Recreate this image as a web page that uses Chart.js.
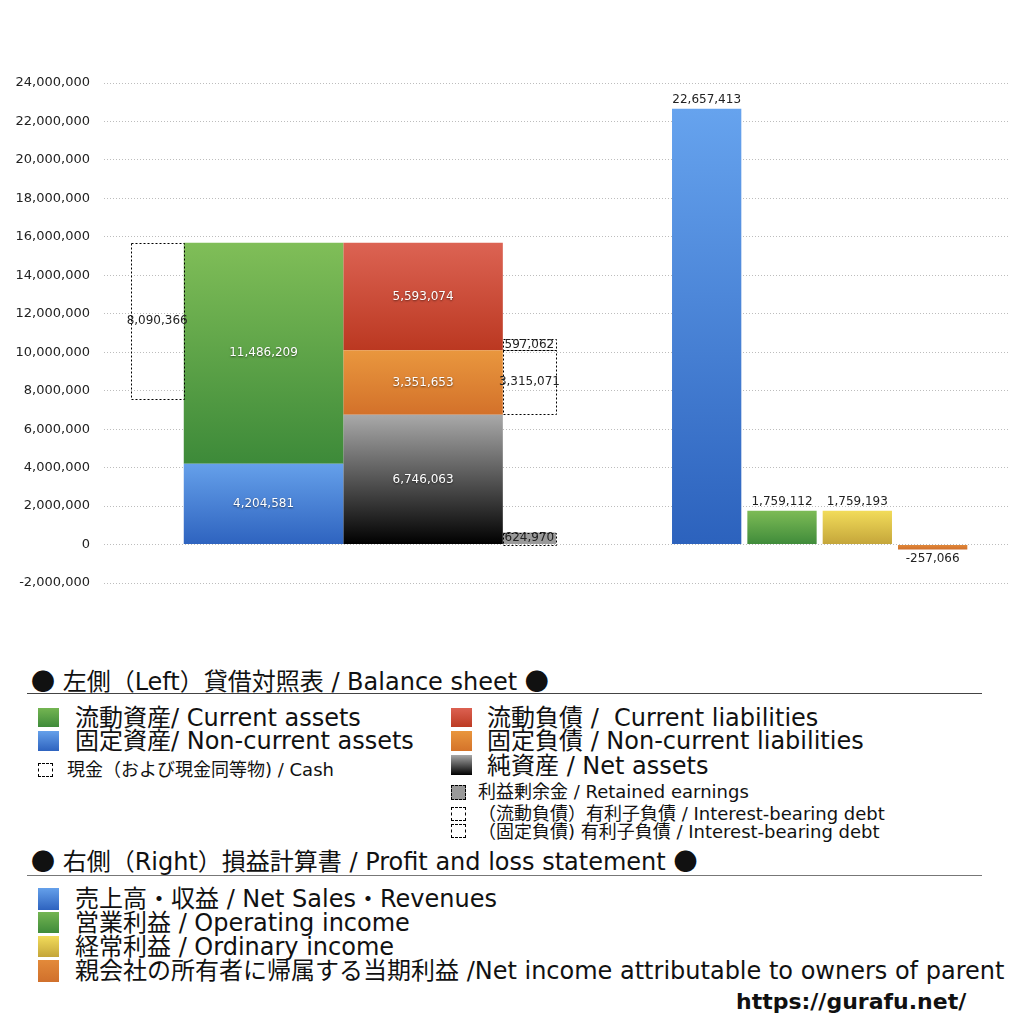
<!DOCTYPE html>
<html>
<head>
<meta charset="utf-8">
<script src="https://cdn.jsdelivr.net/npm/chart.js@4.4.1/dist/chart.umd.min.js"></script>
<style>
  body { margin: 0; background: #fff; width: 1024px; height: 1024px; overflow: hidden; position: relative;
         font-family: "DejaVu Sans", "Noto Sans CJK JP", sans-serif; color: #111; }
  #wrap { position: absolute; left: 0; top: 0; width: 1024px; height: 610px; }
  .t { position: absolute; white-space: nowrap; line-height: 1; }
  .t b { font-family: "Noto Sans CJK JP"; font-weight: normal; }
  .sq { position: absolute; }
  .dot { position: absolute; border: 1px dashed #000; box-sizing: border-box; }
  .rule { position: absolute; height: 0; }
</style>
</head>
<body>
<div id="wrap"><canvas id="grafik"></canvas></div>

<!-- 凡例 -->
<div class="t" style="left:31px;top:668px;font-size:24px"><b>●</b> 左側（Left）貸借対照表 / Balance sheet <b>●</b></div>
<div class="rule" style="left:27px;top:693px;width:955px;border-top:1px solid #444"></div>

<div class="sq" style="left:38px;top:708px;width:21px;height:19px;background:linear-gradient(#74b552,#3f8b3a)"></div>
<div class="t" style="left:75px;top:706px;font-size:24px">流動資産/ Current assets</div>
<div class="sq" style="left:38px;top:731px;width:21px;height:20px;background:linear-gradient(#65a0ea,#2e63bf)"></div>
<div class="t" style="left:75px;top:729px;font-size:24px">固定資産/ Non-current assets</div>
<div class="dot" style="left:38px;top:763px;width:15px;height:14px"></div>
<div class="t" style="left:67px;top:761px;font-size:18px">現金（および現金同等物) / Cash</div>

<div class="sq" style="left:451px;top:708px;width:21px;height:19px;background:linear-gradient(#dc6152,#bc3a22)"></div>
<div class="t" style="left:487px;top:706px;font-size:24px">流動負債 /&nbsp; Current liabilities</div>
<div class="sq" style="left:451px;top:731px;width:21px;height:20px;background:linear-gradient(#e9963d,#d4732a)"></div>
<div class="t" style="left:487px;top:729px;font-size:24px">固定負債 / Non-current liabilities</div>
<div class="sq" style="left:451px;top:755px;width:21px;height:20px;background:linear-gradient(#a8a8a8,#000)"></div>
<div class="t" style="left:487px;top:754px;font-size:24px">純資産 / Net assets</div>
<div class="dot" style="left:451px;top:785px;width:15px;height:15px;background:#999"></div>
<div class="t" style="left:478px;top:783px;font-size:18px">利益剰余金 / Retained earnings</div>
<div class="dot" style="left:451px;top:807px;width:15px;height:14px"></div>
<div class="t" style="left:478px;top:805px;font-size:18px">（流動負債）有利子負債 / Interest-bearing debt</div>
<div class="dot" style="left:451px;top:824px;width:15px;height:14px"></div>
<div class="t" style="left:478px;top:823px;font-size:18px">（固定負債) 有利子負債 / Interest-bearing debt</div>

<div class="t" style="left:31px;top:848px;font-size:24px"><b>●</b> 右側（Right）損益計算書 / Profit and loss statement <b>●</b></div>
<div class="rule" style="left:27px;top:875px;width:955px;border-top:1px solid #777"></div>

<div class="sq" style="left:38px;top:888px;width:21px;height:22px;background:linear-gradient(#65a0ea,#2e63bf)"></div>
<div class="t" style="left:75px;top:887px;font-size:24px">売上高・収益 / Net Sales・Revenues</div>
<div class="sq" style="left:38px;top:912px;width:21px;height:21px;background:linear-gradient(#74b552,#3f8b3a)"></div>
<div class="t" style="left:75px;top:911px;font-size:24px">営業利益 / Operating income</div>
<div class="sq" style="left:38px;top:936px;width:21px;height:21px;background:linear-gradient(#f2dc5a,#c4a53a)"></div>
<div class="t" style="left:75px;top:935px;font-size:24px">経常利益 / Ordinary income</div>
<div class="sq" style="left:38px;top:960px;width:21px;height:22px;background:linear-gradient(#e38a3a,#d0702c)"></div>
<div class="t" style="left:75px;top:959px;font-size:24px">親会社の所有者に帰属する当期利益 /Net income attributable to owners of parent</div>

<div class="t" style="left:736px;top:991px;font-size:22px;font-weight:bold">https://gurafu.net/</div>

<script>
// 貸借対照表（左側）
const assetValues = [4204581, 11486209];          // 固定資産, 流動資産（下から積む）
const liabilityValues = [6746063, 3351653, 5593074]; // 純資産, 固定負債, 流動負債
const cashValue = 8090366;
const debtValues = [597062, 3315071];             // 流動負債の有利子負債, 固定負債の有利子負債
const retainedEarnings = 624970;

// 損益計算書（右側）
const plLabels = ["売上高", "営業利益", "経常利益", "当期利益"];
const plValues = [22657413, 1759112, 1759193, -257066];
const plColors = [["#66a3ee", "#2c62bd"], ["#7dbb56", "#3f8b3a"], ["#f2dc5a", "#c4a53a"], ["#e38a3a", "#d0702c"]];

// x軸のスロット（左右で別の軸）
const leftSlots = ["", "現金", "", "資産", "", "", "負債・純資産", "", "有利子負債", "", "", "", "", "", "", "", "", ""];
const rightSlots = ["", "", "", "", "", "", "", ""].concat(plLabels, [""]);

const yMin = -2000000, yMax = 24000000, yStep = 2000000;

const num = v => v.toLocaleString("en-US");

// 棒ごとの縦グラデーション
function grad(top, bottom) {
  return (c) => {
    const chart = c.chart;
    if (!chart.chartArea || !c.raw) return top;
    const y = chart.scales.y;
    const r = c.raw.y;
    const lo = Array.isArray(r) ? Math.min(r[0], r[1]) : Math.min(0, r);
    const hi = Array.isArray(r) ? Math.max(r[0], r[1]) : Math.max(0, r);
    const g = chart.ctx.createLinearGradient(0, y.getPixelForValue(hi), 0, y.getPixelForValue(lo));
    g.addColorStop(0, top);
    g.addColorStop(1, bottom);
    return g;
  };
}

const totalAssets = assetValues[0] + assetValues[1];
const nclTop = liabilityValues[0] + liabilityValues[1];

function band(slot, lo, hi) { return [{ x: slot, y: [lo, hi] }]; }

// 左側の棒の幅は最小間隔（2スロット）に対する比率
const left = (label, data, colors, extra) => Object.assign({
  label, data, xAxisID: "xL", grouped: false, categoryPercentage: 1, barPercentage: 1.5,
  backgroundColor: colors ? grad(colors[0], colors[1]) : "rgba(0,0,0,0)", borderWidth: 0,
}, extra);

const datasets = [
  left("固定資産", band("資産", 0, assetValues[0]), ["#65a0ea", "#2e63bf"], { etiket: "beyaz" }),
  left("流動資産", band("資産", assetValues[0], totalAssets), ["#80be58", "#3d8a39"], { etiket: "beyaz" }),
  left("純資産", band("負債・純資産", 0, liabilityValues[0]), ["#a9a9a9", "#000000"], { etiket: "beyaz" }),
  left("固定負債", band("負債・純資産", liabilityValues[0], nclTop), ["#e9973e", "#d3712a"], { etiket: "beyaz" }),
  left("流動負債", band("負債・純資産", nclTop, nclTop + liabilityValues[2]), ["#dc6353", "#bb3821"], { etiket: "beyaz" }),
  left("現金", band("現金", totalAssets - cashValue, totalAssets), null, { barPercentage: 0.5, noktali: true, etiket: "siyah" }),
  left("有利子負債（流動）", band("有利子負債", nclTop, nclTop + debtValues[0]), null, { barPercentage: 0.5, noktali: true, etiket: "siyah" }),
  left("有利子負債（固定）", band("有利子負債", nclTop - debtValues[1], nclTop), null, { barPercentage: 0.5, noktali: true, etiket: "siyah" }),
  left("利益剰余金", band("有利子負債", 0, retainedEarnings), null, { barPercentage: 0.5, noktali: true, etiket: "siyah", backgroundColor: "#9a9a9a" }),
  {
    label: "損益計算書", xAxisID: "xR", grouped: false, categoryPercentage: 1, barPercentage: 0.92,
    data: plLabels.map((l, i) => ({ x: l, y: plValues[i] })),
    backgroundColor: (c) => { const p = plColors[c.dataIndex] || plColors[0]; return grad(p[0], p[1])(c); },
    borderWidth: 0, etiket: "dis",
  },
];

// 点線の枠と数値ラベル
const etiketler = {
  id: "etiketler",
  afterDatasetsDraw(chart) {
    const ctx = chart.ctx;
    chart.data.datasets.forEach((ds, di) => {
      const meta = chart.getDatasetMeta(di);
      meta.data.forEach((el, i) => {
        const { x, y, base, width } = el.getProps(["x", "y", "base", "width"], true);
        const raw = ds.data[i].y;
        const value = Array.isArray(raw) ? raw[1] - raw[0] : raw;
        ctx.save();
        if (ds.noktali) {
          ctx.setLineDash([2, 2]);
          ctx.strokeStyle = "#000";
          ctx.lineWidth = 1;
          const top = Math.min(y, base), h = Math.abs(base - y);
          ctx.strokeRect(Math.round(x - width / 2) + 0.5, Math.round(top) + 0.5, Math.round(width), Math.round(h));
          ctx.setLineDash([]);
        }
        ctx.font = '12px "DejaVu Sans", sans-serif';
        ctx.textAlign = "center";
        ctx.textBaseline = "middle";
        let ty = (y + base) / 2;
        if (ds.etiket === "beyaz") {
          ctx.fillStyle = "#fff";
          ctx.shadowColor = "rgba(0,0,0,0.55)";
          ctx.shadowBlur = 2;
          ctx.shadowOffsetY = 1;
        } else {
          ctx.fillStyle = "#222";
          if (ds.etiket === "dis") ty = value >= 0 ? y - 9 : y + 9;
        }
        ctx.fillText(num(value), x, ty);
        ctx.restore();
      });
    });
  },
};

new Chart(document.getElementById("grafik"), {
  type: "bar",
  data: { datasets },
  options: {
    responsive: true,
    maintainAspectRatio: false,
    animation: false,
    layout: { padding: { top: 83, right: 16, bottom: 27, left: 0 } },
    plugins: { legend: { display: false }, tooltip: { enabled: false } },
    scales: {
      xL: { type: "category", labels: leftSlots, offset: false, display: false },
      xR: { type: "category", labels: rightSlots, offset: false, display: false },
      y: {
        min: yMin, max: yMax,
        afterFit: (s) => { s.width = 104; },
        ticks: {
          stepSize: yStep, padding: 14, color: "#222",
          font: { family: "DejaVu Sans", size: 13 },
          callback: (v) => num(v),
        },
        grid: { color: "#bdbdbd", lineWidth: 1, drawTicks: false },
        border: { display: false, dash: [1, 2] },
      },
    },
  },
  plugins: [etiketler],
});
</script>
</body>
</html>
